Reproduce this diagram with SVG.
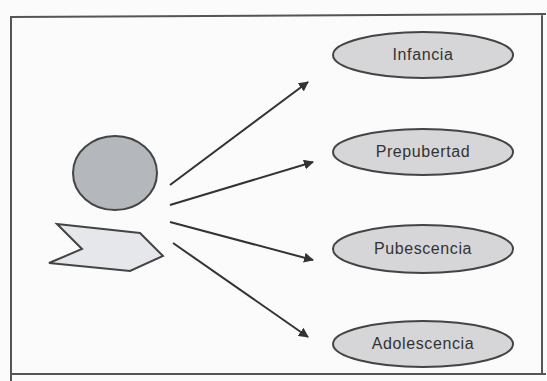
<svg xmlns="http://www.w3.org/2000/svg" width="547" height="381" viewBox="0 0 547 381">
<style>
.frame{fill:none;stroke:#555;stroke-width:2}
.stage{fill:#d6d6d8;stroke:#444;stroke-width:2}
.lbl{font-family:"Liberation Sans",Arial,sans-serif;font-size:16px;letter-spacing:0.6px;fill:#333;text-anchor:middle}
.conn{stroke:#333;stroke-width:2;fill:none;marker-end:url(#ah)}
</style>
<defs>
<marker id="ah" viewBox="0 0 10 10" refX="9" refY="5" markerWidth="5" markerHeight="5" orient="auto" markerUnits="strokeWidth">
<path d="M0,0 L10,5 L0,10 z" fill="#333"/>
</marker>
</defs>
<rect width="547" height="381" fill="#fbfbfc"/>
<path class="frame" d="M11,381 L11,17 L546,14 M11,374 L546,374 M542,14 L542,374"/>
<g id="circle"><ellipse cx="115" cy="173" rx="42" ry="37" fill="#b4b7bb" stroke="#444" stroke-width="2"/></g>
<g id="chevron"><polygon points="57,224 140,233 163,256 130,271 49,263 82,249" fill="#e6e7ea" stroke="#444" stroke-width="2"/></g>
<g id="connectors">
<line class="conn" x1="170" y1="185" x2="308" y2="82"/>
<line class="conn" x1="170" y1="205" x2="313" y2="162"/>
<line class="conn" x1="170" y1="222" x2="313" y2="260"/>
<line class="conn" x1="173" y1="243" x2="308" y2="337"/>
</g>
<g id="infancia"><ellipse class="stage" cx="423" cy="55" rx="90" ry="23"/><text class="lbl" x="423" y="60">Infancia</text></g>
<g id="prepubertad"><ellipse class="stage" cx="423" cy="152" rx="90" ry="23"/><text class="lbl" x="423" y="157">Prepubertad</text></g>
<g id="pubescencia"><ellipse class="stage" cx="423" cy="249" rx="90" ry="24"/><text class="lbl" x="423" y="254">Pubescencia</text></g>
<g id="adolescencia"><ellipse class="stage" cx="423" cy="344" rx="90" ry="23"/><text class="lbl" x="423" y="349">Adolescencia</text></g>
</svg>
